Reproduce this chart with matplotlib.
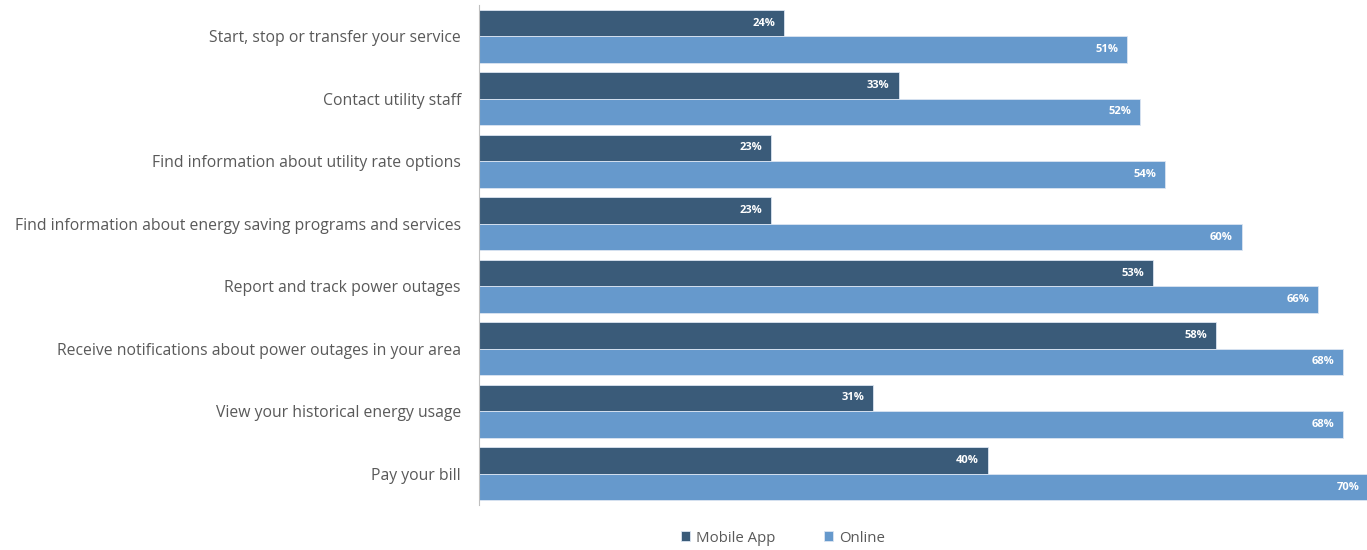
import numpy as np
import matplotlib.pyplot as plt

categories = [
    "Start, stop or transfer your service",
    "Contact utility staff",
    "Find information about utility rate options",
    "Find information about energy saving programs and services",
    "Report and track power outages",
    "Receive notifications about power outages in your area",
    "View your historical energy usage",
    "Pay your bill",
]
mobile_app = [24, 33, 23, 23, 53, 58, 31, 40]
online = [51, 52, 54, 60, 66, 68, 68, 70]

dark = "#3a5b79"
light = "#6699cc"
grey = "#595959"

plt.rcParams["font.family"] = ["Open Sans", "DejaVu Sans"]

fig = plt.figure(figsize=(13.67, 5.5), dpi=100)
ax = fig.add_axes([479 / 1367, 1 - 505 / 550, 888 / 1367, 500 / 550])

y = np.arange(len(categories))
h = 0.424
b1 = ax.barh(y - h / 2, mobile_app, height=h, color=dark, edgecolor="#dbe5f1", linewidth=0.6, label="Mobile App")
b2 = ax.barh(y + h / 2, online, height=h, color=light, edgecolor="#dbe5f1", linewidth=0.6, label="Online")

# value labels inside the end of each bar
for bars in (b1, b2):
    for bar in bars:
        w = bar.get_width()
        ax.annotate(f"{w:.0f}%", (w, bar.get_y() + bar.get_height() / 2),
                    xytext=(-6.5, 0), textcoords="offset points",
                    ha="right", va="center", color="white",
                    fontsize=8, fontweight="bold", annotation_clip=False)

ax.set_xlim(0, 69.85)
ax.set_ylim(len(categories) - 0.5, -0.5)
ax.set_yticks(y)
ax.set_yticklabels(categories, fontsize=11.3, color=grey)
ax.tick_params(axis="y", length=0, pad=13)
ax.set_xticks([])
for s in ("top", "right", "bottom"):
    ax.spines[s].set_visible(False)
ax.spines["left"].set_color("#bfbfbf")
ax.spines["left"].set_linewidth(0.8)

fig.legend(handles=[b1, b2], loc="center", bbox_to_anchor=(783 / 1367, 1 - 538 / 550),
           ncol=2, frameon=False, fontsize=10.8, labelcolor=grey,
           handlelength=0.6, handleheight=0.6, handletextpad=0.4, columnspacing=3.2)

fig.savefig("out.png", dpi=100)
